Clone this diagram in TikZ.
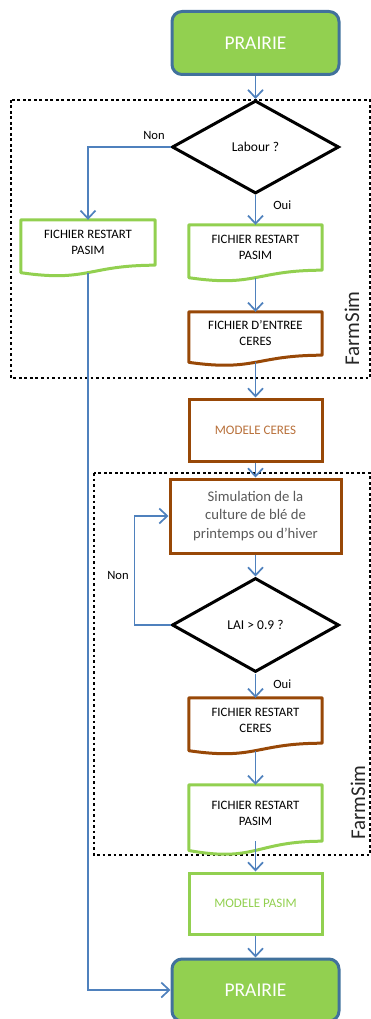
\documentclass[tikz,border=0pt]{standalone}
\usepackage{fontspec}
\setmainfont{Carlito}
\usetikzlibrary{shapes.geometric,arrows.meta,calc}
\definecolor{pgreen}{HTML}{92D050}
\definecolor{pblue}{HTML}{41719C}
\definecolor{lblue}{HTML}{4F81BD}
\definecolor{pbrown}{HTML}{984807}
\definecolor{ceresorange}{HTML}{B8703A}
\definecolor{simgray}{HTML}{595959}
\newcommand\docwave[2]{%
  \draw[#2] (#1.north west) -- (#1.north east) -- (#1.south east)
    .. controls (#1.south) and ($(#1.north)!1.381!(#1.south)$) ..
    ($(#1.north west)!1.1646!(#1.south west)$) -- cycle;
  \coordinate (#1-b) at ($(#1.north)!1.163!(#1.south)$);}
\tikzset{
  prairie/.style={rectangle, rounded corners=10pt, draw=pblue, fill=pgreen, line width=3pt,
    minimum width=167pt, minimum height=63pt, text=white, font=\fontsize{19.5}{22}\selectfont},
  docnode/.style={rectangle, draw=none, minimum width=133pt, inner sep=0pt, align=center,
    font=\fontsize{12.8}{16}\selectfont},
  greendoc/.style={draw=pgreen, line width=3pt, line join=round},
  browndoc/.style={draw=pbrown, line width=3pt, line join=round},
  decision/.style={diamond, draw=black, line width=3pt, line join=miter, inner sep=0pt,
    minimum width=167pt, font=\fontsize{13.5}{16}\selectfont},
  procbox/.style={rectangle, line width=3pt, draw=#1, minimum width=133pt, align=center},
  conn/.style={draw=lblue, line width=1.7pt, -{Straight Barb[length=8pt,width=15pt,line width=1.7pt]}},
  lbl/.style={inner sep=0pt, font=\fontsize{12.6}{14}\selectfont},
  dotbox/.style={draw=black, line width=2.6pt, dash pattern=on 2.6pt off 2.9pt},
  farm/.style={rotate=90, text=black!85, font=\fontsize{21}{24}\selectfont}
}
\begin{document}
\begin{tikzpicture}[x=1pt,y=-1pt]
\useasboundingbox (0,0) rectangle (371,1019);
% dotted frames
\draw[dotbox] (11,100) rectangle (370,378);
\draw[dotbox] (94,473) rectangle (370,855);
\node[farm] (fs1) at (352,328.5) {FarmSim};
\node[farm] (fs2) at (358,802.5) {FarmSim};
% nodes
\node[prairie] (p1) at (255.5,43) {PRAIRIE};
\node[decision, minimum height=93pt] (lab) at (255.5,147) {Labour ?};
\node[docnode, minimum height=45pt, minimum width=134pt] (lp) at (88,242.5) {FICHIER RESTART\\PASIM};
\docwave{lp}{greendoc}
\node[docnode, minimum height=45pt] (rp) at (255.5,247.5) {FICHIER RESTART\\PASIM};
\docwave{rp}{greendoc}
\node[docnode, minimum height=43pt] (ec) at (255.5,333.5) {FICHIER D’ENTREE\\CERES};
\docwave{ec}{browndoc}
\node[procbox=pbrown, minimum height=62pt, text=ceresorange, font=\fontsize{13}{16}\selectfont] (mc) at (255.5,430) {MODELE CERES};
\node[procbox=pbrown, minimum width=171pt, minimum height=74pt, text=simgray, font=\fontsize{14.7}{18.5}\selectfont] (sim) at (255.5,516) {Simulation de la\\culture de blé de\\printemps ou d’hiver};
\node[decision, minimum height=94pt] (lai) at (255.5,625) {LAI > 0.9 ?};
\node[docnode, minimum height=45pt] (rc) at (255.5,720.5) {FICHIER RESTART\\CERES};
\docwave{rc}{browndoc}
\node[docnode, minimum height=56pt] (p2d) at (255.5,813) {FICHIER RESTART\\PASIM};
\docwave{p2d}{greendoc}
\node[procbox=pgreen, minimum height=61pt, text=pgreen, font=\fontsize{13}{16}\selectfont] (mp) at (255.5,903.5) {MODELE PASIM};
\node[prairie, minimum height=62pt] (p2) at (255.5,990) {PRAIRIE};
% connectors
\draw[conn] (p1) -- (lab);
\draw[conn] (lab.west) -| node[lbl, pos=0.1, above=7pt] {Non} (lp.north);
\draw[conn] (lab.south) -- node[lbl, pos=0.34, right=17pt] {Oui} (rp.north);
\draw[conn] (rp-b) -- (ec.north);
\draw[conn] (ec-b) -- (mc.north);
\draw[conn] (mc.south) -- (sim.north);
\draw[conn] (sim.south) -- (lai.north);
\draw[conn] (lai.west) -- ++(-36,0) |- node[lbl, pos=0.225, left=5pt] {Non} (sim.west);
\draw[conn] (lai.south) -- node[lbl, pos=0.42, right=17pt] {Oui} (rc.north);
\draw[conn] (rc-b) -- (p2d.north);
\draw[conn] (p2d.south) -- (mp.north);
\draw[conn] (mp.south) -- (p2.north);
\draw[conn] (lp-b) |- (p2.west);
\end{tikzpicture}
\end{document}
